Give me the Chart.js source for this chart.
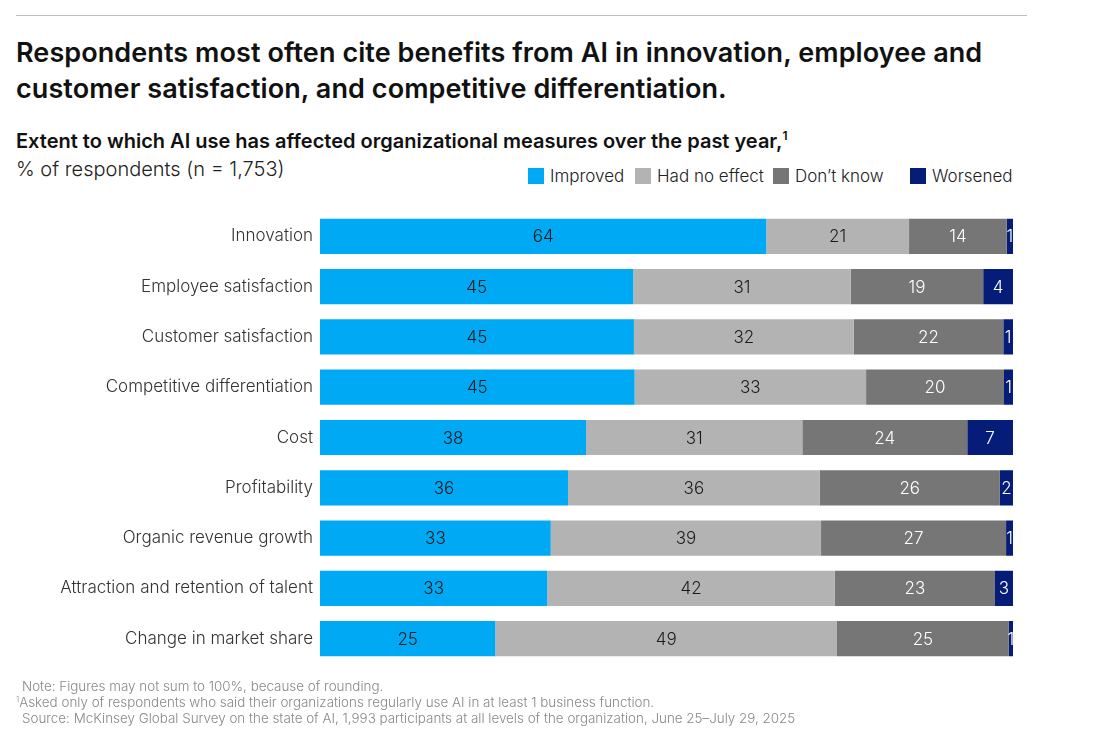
<!DOCTYPE html>
<html>
<head>
<meta charset="utf-8">
<script src="https://cdn.jsdelivr.net/npm/chart.js@4.4.1/dist/chart.umd.min.js"></script>
<style>
  body { margin: 0; background: #fff; font-family: Inter, "Liberation Sans", sans-serif; }
  #page { position: relative; width: 1097px; height: 736px; overflow: hidden; }
  #rule { position: absolute; left: 16px; top: 15px; width: 1011px; height: 1px; background: #bdbdbd; }
  #title { position: absolute; left: 16px; top: 35px; font-size: 27px; font-weight: 600; line-height: 36px; color: #111; letter-spacing: 0.08px; }
  #subtitle { position: absolute; left: 16px; top: 129px; font-size: 20px; font-weight: 600; color: #111; }
  #subtitle sup { font-size: 12px; line-height: 0; }
  #unit { position: absolute; left: 16px; top: 157px; font-size: 20px; font-weight: 300; color: #222; }
  #legend { position: absolute; top: 166px; left: 0; font-size: 17px; font-weight: 300; color: #222; }
  .item { position: absolute; white-space: nowrap; }
  .sw { display: inline-block; width: 16px; height: 16px; vertical-align: -2px; margin-right: 6px; }
  #wrap { position: absolute; left: 0; top: 194px; width: 1013px; height: 487px; }
  #notes { position: absolute; left: 16px; top: 678px; font-size: 13.4px; font-weight: 300; color: #888; line-height: 16px; }
  #notes sup { font-size: 8px; line-height: 0; }
</style>
</head>
<body>
<div id="page">
  <div id="rule"></div>
  <div id="title">Respondents most often cite benefits from AI in innovation, employee and<br>customer satisfaction, and competitive differentiation.</div>
  <div id="subtitle">Extent to which AI use has affected organizational measures over the past year,<sup>1</sup></div>
  <div id="unit">% of respondents (n = 1,753)</div>
  <div id="legend"></div>
  <div id="wrap"><canvas id="chart"></canvas></div>
  <div id="notes">
    <div style="margin-left:6px">Note: Figures may not sum to 100%, because of rounding.</div>
    <div><sup>1</sup>Asked only of respondents who said their organizations regularly use AI in at least 1 business function.</div>
    <div style="margin-left:6px">Source: McKinsey Global Survey on the state of AI, 1,993 participants at all levels of the organization, June 25–July 29, 2025</div>
  </div>
</div>
<script>
const categories = [
  "Innovation",
  "Employee satisfaction",
  "Customer satisfaction",
  "Competitive differentiation",
  "Cost",
  "Profitability",
  "Organic revenue growth",
  "Attraction and retention of talent",
  "Change in market share"
];
const seriesNames = ["Improved", "Had no effect", "Don\u2019t know", "Worsened"];
const improved   = [64.4, 45.2, 45.3, 45.4, 38.4, 35.8, 33.3, 32.8, 25.3];
const noEffect   = [20.6, 31.4, 31.7, 33.4, 31.2, 36.3, 39.0, 41.5, 49.3];
const dontKnow   = [14.1, 19.1, 21.6, 19.9, 23.8, 26.0, 26.7, 23.1, 24.8];
const worsened   = [0.9, 4.3, 1.4, 1.3, 6.6, 1.9, 1.0, 2.6, 0.6];
const colors     = ["#00a9f4", "#b3b3b3", "#767676", "#051d78"];
const labelColors = ["#1a1a1a", "#1a1a1a", "#ffffff", "#ffffff"];
const legendX    = [528, 635, 773, 910];

// legend
const legend = document.getElementById("legend");
seriesNames.forEach((name, i) => {
  const el = document.createElement("div");
  el.className = "item";
  el.style.left = legendX[i] + "px";
  el.innerHTML = `<span class="sw" style="background:${colors[i]}"></span>${name}`;
  legend.appendChild(el);
});

// value labels inside the bars
const barLabels = {
  id: "barLabels",
  afterDatasetsDraw(chart) {
    const ctx = chart.ctx;
    ctx.save();
    ctx.font = "300 17px Inter, sans-serif";
    ctx.textAlign = "center";
    ctx.textBaseline = "middle";
    chart.data.datasets.forEach((ds, di) => {
      chart.getDatasetMeta(di).data.forEach((bar, i) => {
        const mid = (bar.x + bar.base) / 2;
        ctx.fillStyle = labelColors[di];
        ctx.fillText(Math.round(ds.data[i]), mid, bar.y + 1);
      });
    });
    ctx.restore();
  }
};

const allSeries = [improved, noEffect, dontKnow, worsened];

new Chart(document.getElementById("chart"), {
  type: "bar",
  data: {
    labels: categories,
    datasets: allSeries.map((data, i) => ({
      label: seriesNames[i],
      data: data,
      backgroundColor: colors[i],
      borderWidth: 0,
      barPercentage: 0.7,
      categoryPercentage: 1
    }))
  },
  options: {
    indexAxis: "y",
    responsive: true,
    maintainAspectRatio: false,
    animation: false,
    layout: { padding: 0 },
    plugins: {
      legend: { display: false },
      tooltip: { enabled: false }
    },
    scales: {
      x: { stacked: true, min: 0, max: 100, display: false },
      y: {
        stacked: true,
        grid: { display: false, drawTicks: false },
        border: { display: false },
        ticks: {
          color: "#333",
          padding: 7,
          font: { family: "Inter, sans-serif", size: 17, weight: 300 }
        },
        afterFit(axis) { axis.width = 320; }
      }
    }
  },
  plugins: [barLabels]
});
</script>
</body>
</html>
